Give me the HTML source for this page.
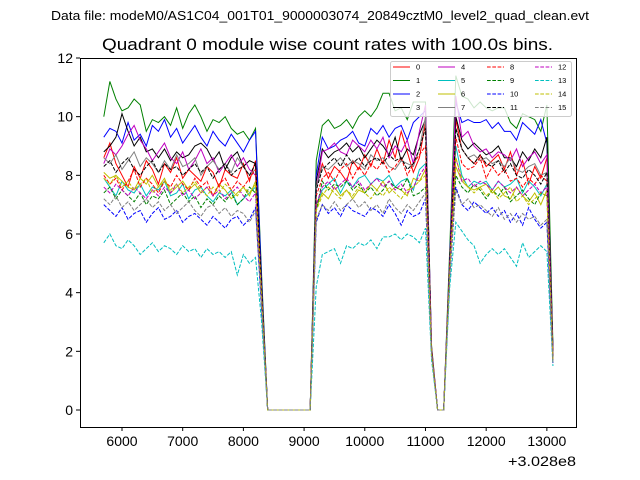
<!DOCTYPE html>
<html><head><meta charset="utf-8"><style>
body{margin:0;background:#fff}
svg{display:block;font-family:"Liberation Sans","DejaVu Sans",sans-serif}
</style></head><body>
<svg id="chart" width="640" height="480" viewBox="0 0 640 480" xmlns="http://www.w3.org/2000/svg">
<rect width="640" height="480" fill="#fff"/>
<text x="51" y="20" font-size="12.5" textLength="538" lengthAdjust="spacingAndGlyphs">Data file: modeM0/AS1C04_001T01_9000003074_20849cztM0_level2_quad_clean.evt</text>
<text x="102" y="50" font-size="17" textLength="451" lengthAdjust="spacingAndGlyphs">Quadrant 0 module wise count rates with 100.0s bins.</text>
<g id="plot"></g>
<rect x="80.5" y="58.5" width="496" height="369" fill="none" stroke="#000" stroke-width="1"/>
<g id="ticks"></g>
<text x="508" y="466" font-size="14" textLength="68" lengthAdjust="spacingAndGlyphs">+3.028e8</text>
<g id="legend"></g>
</svg>
<script>
const seriesNames = ["0","1","2","3","4","5","6","7","8","9","10","11","12","13","14","15"];
const xTicks = [6000,7000,8000,9000,10000,11000,12000,13000];
const yTicks = [0,2,4,6,8,10,12];
const tStart = 5700, tStep = 100;
const s0 = [8.6,9.1,8.4,8.0,7.6,8.3,7.9,8.5,8.2,7.7,8.4,8.1,8.6,7.9,8.2,8.0,7.8,8.3,8.1,7.6,8.2,8.0,7.9,8.4,7.8,8.5,4.1,0,0,0,0,0,0,0,0,7.6,8.4,7.9,8.3,8.1,7.8,8.5,8.2,8.7,8.3,8.9,8.4,9.2,8.6,9.5,8.8,8.1,8.6,9.8,2.1,0,0,5.0,9.9,8.9,8.6,8.4,8.7,8.3,8.5,8.7,8.2,8.8,8.0,8.5,7.7,8.3,7.9,8.6,2.0];
const s1 = [10.0,11.2,10.6,10.2,10.3,10.6,10.4,9.5,9.9,9.8,10.0,9.7,10.3,9.6,10.1,10.4,10.0,9.5,9.9,9.8,10.0,9.6,9.4,9.5,9.2,9.6,4.6,0,0,0,0,0,0,0,0,8.5,9.7,9.9,9.6,9.7,9.9,9.6,10.0,10.2,10.0,10.3,10.8,10.8,10.2,10.3,9.9,10.5,10.5,10.5,2.2,0,0,5.5,11.4,10.7,10.6,10.3,10.5,10.3,10.2,10.3,10.3,9.8,9.6,10.1,10.0,9.9,9.5,10.4,2.2];
const s2 = [9.3,9.6,9.5,9.1,9.8,9.2,9.4,9.0,9.7,9.5,9.9,9.3,9.6,9.1,9.4,9.7,9.3,9.0,9.5,9.2,9.0,9.4,9.1,8.8,9.2,9.5,4.4,0,0,0,0,0,0,0,0,8.0,9.3,8.9,9.0,9.2,9.3,9.5,9.1,9.0,9.6,9.4,9.7,9.3,9.6,9.7,9.2,9.8,10.0,10.2,2.1,0,0,5.2,10.5,9.8,9.9,9.8,9.8,9.9,9.6,9.8,9.5,9.5,9.2,9.8,9.6,9.4,9.9,9.1,2.0];
const s3 = [8.8,9.0,9.3,10.1,9.5,9.0,9.3,8.8,8.9,8.6,8.9,8.5,8.8,8.6,8.7,9.0,9.1,8.9,8.5,8.8,8.2,8.6,8.8,8.3,8.5,8.4,4.2,0,0,0,0,0,0,0,0,7.8,8.9,8.6,8.8,8.9,9.1,8.8,9.0,8.6,8.9,9.2,9.0,8.7,9.3,8.5,8.9,8.7,9.4,9.9,2.0,0,0,5.0,10.0,9.2,8.9,9.1,8.9,8.7,8.8,9.0,8.6,8.6,8.3,8.8,8.5,8.9,8.6,9.3,2.0];
const s4 = [8.4,8.9,8.7,9.0,9.4,9.7,9.2,8.9,8.5,8.8,9.1,8.6,8.4,8.8,8.2,8.5,8.9,8.4,8.6,8.1,8.4,8.7,8.3,8.6,8.2,8.0,4.0,0,0,0,0,0,0,0,0,7.5,8.8,8.9,9.1,8.8,8.7,9.2,9.0,8.8,9.2,8.9,9.3,8.6,9.0,8.8,9.2,8.4,9.5,10.4,2.1,0,0,5.0,10.7,9.3,9.5,9.0,8.8,8.9,8.6,8.8,8.7,8.5,8.9,8.3,8.6,8.8,8.4,8.7,1.9];
const s5 = [7.9,7.6,7.3,7.8,7.5,7.4,7.7,7.3,7.6,7.5,7.8,7.3,7.4,7.7,7.2,7.5,7.6,7.3,7.1,7.4,7.3,7.5,7.0,7.2,7.4,7.6,3.8,0,0,0,0,0,0,0,0,7.0,7.5,7.7,7.9,7.4,7.8,7.6,7.9,8.0,7.7,7.9,7.8,8.0,7.6,7.8,7.9,7.5,8.2,8.4,2.0,0,0,4.6,9.0,8.0,7.6,7.8,7.7,7.8,7.5,7.8,7.6,7.7,7.9,7.4,7.8,7.6,7.3,7.7,1.8];
const s6 = [8.1,7.9,8.0,7.8,7.6,7.5,7.9,7.7,8.0,7.6,7.9,7.4,7.6,7.8,7.5,7.7,7.4,7.6,7.3,7.7,7.5,7.2,7.4,7.6,7.3,7.8,3.9,0,0,0,0,0,0,0,0,6.9,7.4,7.2,7.6,7.3,7.5,7.2,7.5,7.4,7.7,7.5,7.8,7.4,7.6,7.5,7.3,7.9,7.8,8.2,2.0,0,0,4.8,8.3,7.8,7.6,7.5,7.6,7.7,7.4,7.6,7.3,7.2,7.6,7.3,7.1,7.4,7.0,7.5,1.7];
const s7 = [8.6,8.4,8.7,8.2,8.5,8.8,8.3,8.6,8.4,8.1,8.5,8.2,8.7,8.3,8.4,8.6,8.0,8.3,8.5,8.2,8.4,8.1,8.6,8.3,8.0,8.2,4.0,0,0,0,0,0,0,0,0,7.6,8.3,8.2,8.4,8.6,8.3,8.5,8.4,8.2,8.7,8.5,8.6,8.3,8.2,8.5,8.4,8.3,8.9,10.0,2.1,0,0,5.0,9.6,8.9,8.6,8.7,8.5,8.6,8.4,8.5,8.3,8.6,8.2,8.1,8.3,8.4,8.0,8.1,1.9];
const s8 = [8.0,7.7,7.9,7.5,7.8,8.2,7.6,7.9,7.7,7.4,7.8,7.6,8.0,7.7,7.5,7.9,7.6,7.8,7.3,7.7,7.9,7.5,7.8,7.6,7.9,8.2,4.0,0,0,0,0,0,0,0,0,7.3,7.9,8.1,7.8,8.2,8.4,7.9,8.3,8.0,8.4,8.2,8.5,8.1,8.3,8.6,8.0,8.4,8.7,9.0,2.1,0,0,5.0,9.3,8.4,8.2,8.3,8.6,7.9,8.3,8.0,8.2,7.8,7.9,7.6,7.9,7.7,8.0,7.8,1.9];
const s9 = [7.4,7.6,7.2,7.5,7.3,7.1,7.4,7.0,7.3,7.2,7.5,7.0,7.2,7.4,7.1,7.3,6.9,7.2,7.0,7.3,7.1,7.4,7.0,7.2,7.6,7.4,3.7,0,0,0,0,0,0,0,0,6.8,7.8,7.5,7.7,7.6,7.8,7.5,7.7,7.4,7.6,7.3,7.5,7.8,7.6,7.5,7.9,7.3,7.4,7.6,2.0,0,0,4.7,8.0,7.6,7.4,7.7,7.5,7.2,7.5,7.3,7.6,7.1,7.3,7.5,7.2,7.0,7.4,7.3,1.7];
const s10 = [7.0,6.8,6.6,6.9,6.5,6.7,6.8,6.4,6.7,6.9,6.5,6.6,6.8,6.4,6.6,6.7,6.5,6.3,6.6,6.4,6.2,6.5,6.6,6.3,6.5,6.9,3.4,0,0,0,0,0,0,0,0,6.4,7.0,6.7,6.9,6.6,7.0,6.8,6.7,6.6,6.9,6.8,6.6,7.0,6.7,6.3,6.8,6.6,6.7,7.2,1.9,0,0,4.5,7.6,7.0,6.8,7.1,6.9,6.7,6.9,6.6,6.8,6.4,6.7,6.3,6.9,6.5,6.2,6.4,1.6];
const s11 = [8.3,8.5,8.1,8.4,8.6,8.2,8.0,8.3,8.5,8.1,8.4,8.2,8.3,8.0,8.2,8.4,8.1,8.3,7.9,8.2,8.4,8.0,8.2,8.3,8.0,8.4,4.0,0,0,0,0,0,0,0,0,7.5,8.2,8.4,8.6,8.3,8.7,8.4,8.6,8.3,8.5,8.6,8.4,8.7,8.5,8.6,8.2,8.4,8.9,9.6,2.0,0,0,5.0,9.6,8.9,8.6,8.4,8.7,8.4,8.3,8.5,8.1,8.4,8.0,7.9,8.2,8.0,7.7,8.1,1.8];
const s12 = [7.6,7.4,7.7,7.5,7.3,7.6,7.4,7.2,7.5,7.3,7.6,7.4,7.7,7.3,7.5,7.2,7.4,7.6,7.3,7.5,7.2,7.4,7.6,7.3,7.1,7.4,3.7,0,0,0,0,0,0,0,0,7.0,7.6,7.8,7.5,7.7,7.9,7.6,7.8,7.5,7.7,7.9,7.6,7.8,7.5,7.7,7.4,7.6,8.0,8.3,2.0,0,0,4.8,8.6,7.8,7.9,7.6,7.8,7.7,7.5,7.8,7.6,7.4,7.6,7.3,7.5,7.7,7.4,7.6,1.7];
const s13 = [5.7,6.0,5.6,5.5,5.8,5.6,5.3,5.5,5.7,5.4,5.6,5.5,5.3,5.6,5.4,5.5,5.2,5.5,5.3,5.4,5.2,5.4,4.6,5.3,5.0,5.2,3.0,0,0,0,0,0,0,0,0,4.2,5.3,5.4,5.5,5.0,5.6,5.5,5.7,5.6,5.8,5.5,5.9,5.9,6.0,5.8,6.0,5.9,5.7,6.2,1.7,0,0,4.2,6.4,6.1,5.8,5.6,5.0,5.3,5.5,5.3,5.5,5.2,4.9,5.7,5.2,5.4,5.6,5.4,1.5];
const s14 = [7.9,7.7,8.0,7.6,7.8,7.5,7.7,7.9,7.4,7.6,7.8,7.5,7.7,7.4,7.6,7.8,7.5,7.3,7.6,7.4,7.7,7.5,7.3,7.6,7.4,7.7,3.8,0,0,0,0,0,0,0,0,6.8,7.3,7.6,7.4,7.2,7.5,7.3,7.6,7.4,7.2,7.5,7.3,7.6,7.4,7.2,7.5,7.6,7.8,8.0,1.9,0,0,4.7,8.6,7.9,7.6,7.4,7.6,7.3,7.5,7.2,7.4,7.6,7.1,7.3,7.0,7.2,7.4,7.3,1.7];
const s15 = [7.2,7.0,7.3,6.9,7.1,6.8,7.0,7.2,6.9,7.1,6.8,7.0,6.7,6.9,7.1,6.8,6.6,6.9,7.0,6.7,6.9,6.6,6.8,6.7,6.4,6.8,3.5,0,0,0,0,0,0,0,0,6.5,7.0,6.8,7.1,6.8,7.0,7.2,6.9,7.1,6.8,7.0,6.7,7.2,6.9,6.7,7.0,6.8,7.1,7.4,1.9,0,0,4.6,7.5,7.0,7.2,6.9,7.0,6.8,6.6,6.9,6.5,6.7,6.4,6.7,6.5,6.6,6.3,6.5,1.6];
const seriesValues = [s0,s1,s2,s3,s4,s5,s6,s7,s8,s9,s10,s11,s12,s13,s14,s15];

const colors = ["#ff0000","#008000","#0000ff","#000000","#bf00bf","#00bfbf","#bfbf00","#808080"];
const NS = "http://www.w3.org/2000/svg";
const X0 = 80, X1 = 576, Y0 = 58, Y1 = 427;
const xmin = 5308, xmax = 13480, ymin = -0.58, ymax = 12;
function xs(t){ return X0 + (t - xmin) / (xmax - xmin) * (X1 - X0); }
function ys(v){ return Y1 - (v - ymin) / (ymax - ymin) * (Y1 - Y0); }
function mk(tag, attrs, parent){ const e = document.createElementNS(NS, tag); for (const k in attrs) e.setAttribute(k, attrs[k]); parent.appendChild(e); return e; }

const plot = document.getElementById('plot');
seriesValues.forEach((vals, si) => {
  const pts = vals.map((v, i) => xs(tStart + tStep * i).toFixed(2) + "," + ys(v).toFixed(2)).join(" ");
  const pl = mk('polyline', {points: pts, fill: 'none', stroke: colors[si % 8], 'stroke-width': 1, 'stroke-dasharray': si >= 8 ? '3.7,1.6' : 'none'}, plot);
  
  
});

const ticks = document.getElementById('ticks');
xTicks.forEach(t => {
  const x = xs(t);
  const l = mk('line', {x1: x, x2: x, y1: Y1, y2: Y1 + 4, stroke: '#000'}, ticks);
  
  
  const tx = mk('text', {x: x, y: Y1 + 19, 'font-size': 14, 'text-anchor': 'middle'}, ticks);
  tx.textContent = t;
  
  
});
yTicks.forEach(v => {
  const y = ys(v);
  const l = mk('line', {x1: X0 - 4, x2: X0, y1: y, y2: y, stroke: '#000'}, ticks);
  
  
  const tx = mk('text', {x: X0 - 7, y: y + 5, 'font-size': 14, 'text-anchor': 'end'}, ticks);
  tx.textContent = v;
  
  
});

const legend = document.getElementById('legend');
const box = mk('rect', {x: 390.5, y: 61.5, width: 181, height: 55, rx: 2, fill: '#fff', 'fill-opacity': 0.8, stroke: '#ccc'}, legend);


const colX = [393, 438, 487, 535];
const rowY = [67, 80.5, 94, 107.5];
seriesNames.forEach((n, si) => {
  const c = Math.floor(si / 4), r = si % 4;
  const g = mk('g', {}, legend);
  
  
  mk('line', {x1: colX[c], x2: colX[c] + 17, y1: rowY[r], y2: rowY[r], stroke: colors[si % 8], 'stroke-width': 1, 'stroke-dasharray': si >= 8 ? '3.7,1.6' : 'none'}, g);
  const tx = mk('text', {x: colX[c] + 23, y: rowY[r] + 2.5, 'font-size': 7.5}, g);
  tx.textContent = n;
});
</script>
</body></html>
